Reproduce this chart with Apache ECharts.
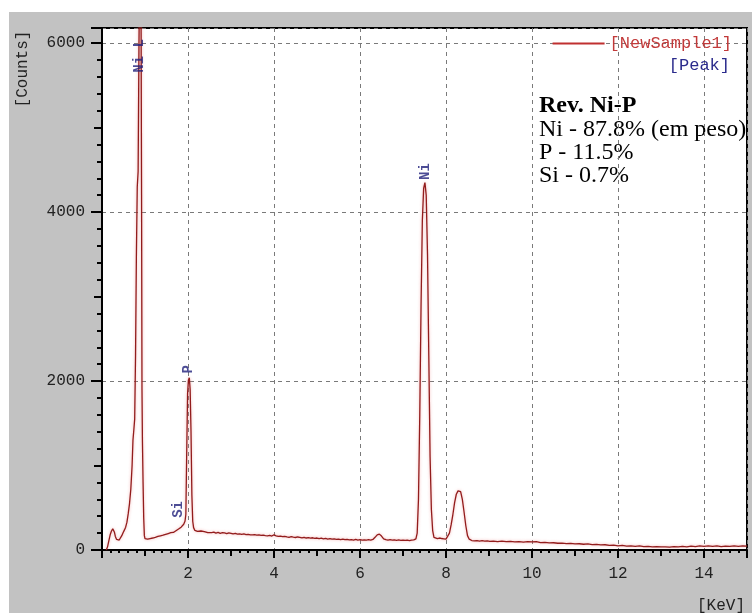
<!DOCTYPE html>
<html>
<head>
<meta charset="utf-8">
<title>EDS spectrum - Rev. Ni-P</title>
<script src="https://cdn.jsdelivr.net/npm/echarts@6/dist/echarts.min.js"></script>
<style>
  html, body { margin: 0; padding: 0; background: #fff; width: 752px; height: 613px; overflow: hidden; }
  #chart { position: absolute; left: 9px; top: 12px; width: 743px; height: 601px; background: #c2c2c2; }
</style>
</head>
<body>
<div id="chart"></div>
<script>
// Spectrum channels: energy (keV) and detector counts
const energyKeV = [
  0.10, 0.13, 0.16, 0.19, 0.22, 0.25, 0.27, 0.29, 0.31, 0.34, 0.37, 0.40, 0.43, 0.46, 0.49, 0.52, 0.55, 0.58, 0.61, 0.64,
  0.67, 0.70, 0.72, 0.74, 0.76, 0.78, 0.80, 0.82, 0.84, 0.86, 0.88, 0.90, 0.91, 0.92, 0.93, 0.94, 0.955, 0.97, 0.985, 1.00,
  1.03, 1.06, 1.09, 1.12, 1.15, 1.18, 1.21, 1.24, 1.27, 1.30, 1.33, 1.36, 1.39, 1.42, 1.45, 1.48, 1.51, 1.54, 1.57, 1.60,
  1.63, 1.66, 1.69, 1.72, 1.75, 1.78, 1.81, 1.84, 1.87, 1.90, 1.93, 1.95, 1.97, 1.99, 2.01, 2.03, 2.05, 2.07, 2.09, 2.11,
  2.13, 2.16, 2.19, 2.22, 2.26, 2.30, 2.34, 2.38, 2.42, 2.46, 2.50, 2.55, 2.60, 2.65, 2.70, 2.75, 2.80, 2.85, 2.90, 2.95,
  3.00, 3.05, 3.10, 3.15, 3.20, 3.25, 3.30, 3.35, 3.40, 3.45, 3.50, 3.55, 3.60, 3.65, 3.70, 3.75, 3.80, 3.85, 3.90, 3.95,
  4.00, 4.05, 4.10, 4.15, 4.20, 4.25, 4.30, 4.35, 4.40, 4.45, 4.50, 4.55, 4.60, 4.65, 4.70, 4.75, 4.80, 4.85, 4.90, 4.95,
  5.00, 5.05, 5.10, 5.15, 5.20, 5.25, 5.30, 5.35, 5.40, 5.45, 5.50, 5.55, 5.60, 5.65, 5.70, 5.75, 5.80, 5.85, 5.90, 5.95,
  6.00, 6.05, 6.10, 6.15, 6.20, 6.25, 6.30, 6.35, 6.40, 6.45, 6.50, 6.55, 6.60, 6.65, 6.70, 6.75, 6.80, 6.85, 6.90, 6.95,
  7.00, 7.05, 7.10, 7.15, 7.20, 7.25, 7.30, 7.33, 7.36, 7.39, 7.42, 7.45, 7.48, 7.51, 7.54, 7.57, 7.60, 7.63, 7.66, 7.69,
  7.72, 7.76, 7.80, 7.85, 7.90, 7.95, 8.00, 8.04, 8.08, 8.12, 8.16, 8.20, 8.24, 8.28, 8.31, 8.34, 8.38, 8.42, 8.46, 8.50,
  8.54, 8.60, 8.66, 8.72, 8.78, 8.84, 8.90, 8.96, 9.02, 9.10, 9.20, 9.30, 9.40, 9.50, 9.60, 9.70, 9.80, 9.90, 10.00, 10.10,
  10.20, 10.30, 10.40, 10.50, 10.60, 10.70, 10.80, 10.90, 11.00, 11.10, 11.20, 11.30, 11.40, 11.50, 11.60, 11.70, 11.80, 11.90, 12.00, 12.10,
  12.20, 12.30, 12.40, 12.50, 12.60, 12.70, 12.80, 12.90, 13.00, 13.10, 13.20, 13.30, 13.40, 13.50, 13.60, 13.70, 13.80, 13.90, 14.00, 14.10,
  14.20, 14.30, 14.40, 14.50, 14.60, 14.70, 14.80, 14.90, 15.00
];
const counts = [
  0, 40, 110, 180, 225, 250, 245, 210, 160, 125, 110, 118, 140, 170, 205, 235, 270, 330, 430, 550,
  720, 1000, 1300, 1420, 1550, 2300, 3500, 4300, 4480, 6000, 7000, 6900, 6100, 4200, 1900, 1300, 800, 380, 170, 135,
  120, 128, 122, 135, 130, 142, 138, 150, 146, 160, 155, 168, 162, 175, 172, 185, 182, 195, 192, 205,
  210, 208, 222, 228, 240, 248, 262, 270, 285, 305, 340, 420, 1150, 1850, 2010, 2040, 1900, 1400, 650, 340,
  265, 232, 215, 220, 212, 225, 208, 218, 212, 205, 215, 206, 212, 200, 208, 198, 205, 202, 194, 203,
  198, 190, 196, 188, 192, 185, 190, 182, 186, 180, 178, 183, 175, 178, 172, 176, 170, 166, 172, 165,
  180, 168, 160, 165, 158, 162, 155, 150, 158, 152, 148, 154, 150, 144, 150, 142, 146, 140, 145, 138,
  142, 135, 140, 132, 138, 130, 136, 128, 132, 126, 130, 124, 128, 122, 126, 120, 124, 118, 126, 118,
  122, 116, 120, 118, 122, 118, 125, 150, 180, 188, 165, 132, 122, 118, 122, 116, 120, 115, 119, 114,
  118, 113, 117, 112, 118, 120, 132, 200, 600, 1600, 2900, 3900, 4280, 4350, 4200, 3500, 2300, 1100, 480, 230,
  150, 140, 135, 142, 136, 132, 128, 150, 200, 300, 420, 560, 660, 700, 705, 690, 600, 450, 290, 170,
  128, 112, 108, 112, 106, 110, 104, 108, 102, 106, 100, 104, 98, 102, 96, 100, 94, 98, 96, 100,
  88, 90, 84, 86, 80, 82, 76, 78, 72, 74, 68, 72, 64, 66, 60, 62, 55, 58, 50, 54,
  46, 50, 44, 48, 40, 44, 38, 40, 36, 38, 34, 40, 36, 44, 38, 46, 40, 48, 42, 50,
  44, 48, 40, 46, 42, 48, 44, 50, 46
];

// Identified peaks: label, energy (keV), counts where the label starts
const peakNames = ['Ni L', 'Si', 'P', 'Ni'];
const peakKeV = [0.88, 1.79, 2.01, 7.52];
const peakCounts = [5650, 380, 2090, 4380];

// Axis tick labels
const xTickLabels = [2, 4, 6, 8, 10, 12, 14];
const yTickLabels = [0, 2000, 4000, 6000];

// Composition note
const noteTitle = 'Rev. Ni-P';
const noteLines = ['Ni - 87.8% (em peso)', 'P - 11.5%', 'Si - 0.7%'];

const monoFont = 'Liberation Mono';
const spectrum = energyKeV.map((e, i) => [e, counts[i]]);
const peaks = peakNames.map((n, i) => [peakKeV[i], peakCounts[i], n]);

const lineColor = '#921c1c';
const blackLine = { color: '#000', width: 2 };
const gridDash = { color: '#7a7a7a', width: 1, type: [4, 4] };

const chart = echarts.init(document.getElementById('chart'), null, { renderer: 'canvas' });

const noteGraphics = [{
  type: 'text', x: 530, y: 94,
  style: { text: noteTitle, font: 'bold 24px "Liberation Serif"', fill: '#000', verticalAlign: 'middle', textVerticalAlign: 'middle' }
}].concat(noteLines.map((t, i) => ({
  type: 'text', x: 530, y: 118 + i * 23,
  style: { text: t, font: '24px "Liberation Serif"', fill: '#000', verticalAlign: 'middle', textVerticalAlign: 'middle' }
})));

chart.setOption({
  animation: false,
  grid: {
    left: 93, top: 16, right: 5, bottom: 63,
    show: true, backgroundColor: '#fff', borderColor: '#000', borderWidth: 2
  },
  legend: [
    {
      data: [{ name: '[NewSample1]', icon: 'rect' }],
      right: 20, top: 23, padding: 0,
      itemWidth: 52, itemHeight: 2, selectedMode: false,
      textStyle: { color: '#c23a3a', fontFamily: monoFont, fontSize: 17 }
    },
    {
      data: [{ name: '[Peak]', icon: 'none' }],
      right: 22, top: 45, padding: 0,
      itemWidth: 0, itemHeight: 14, selectedMode: false,
      textStyle: { color: '#2b2b8c', fontFamily: monoFont, fontSize: 17 }
    }
  ],
  xAxis: [
    {
      type: 'value', min: 0, max: 15, interval: 1, position: 'bottom',
      axisLine: { show: true, lineStyle: blackLine },
      axisTick: { show: true, length: 6, lineStyle: blackLine },
      minorTick: { show: true, splitNumber: 5, length: 3, lineStyle: blackLine },
      axisLabel: { show: false },
      splitLine: { show: false }
    },
    {
      type: 'value', min: 0, max: 15, interval: 2, position: 'bottom',
      axisLine: { show: false },
      axisTick: { show: true, length: 8, lineStyle: blackLine },
      axisLabel: {
        margin: 16, color: '#222', fontFamily: monoFont, fontSize: 16,
        formatter: v => (xTickLabels.indexOf(v) >= 0 ? String(v) : '')
      },
      splitLine: { show: true, lineStyle: gridDash }
    }
  ],
  yAxis: [
    {
      type: 'value', min: 0, max: 6180, interval: 1000, position: 'left',
      axisLine: { show: true, lineStyle: blackLine },
      axisTick: { show: true, length: 8, lineStyle: blackLine },
      minorTick: { show: true, splitNumber: 5, length: 5, lineStyle: blackLine },
      axisLabel: { show: false },
      splitLine: { show: false }
    },
    {
      type: 'value', min: 0, max: 6180, interval: 2000, position: 'left',
      axisLine: { show: false },
      axisTick: { show: true, length: 11, lineStyle: blackLine },
      axisLabel: {
        margin: 17, color: '#222', fontFamily: monoFont, fontSize: 16,
        formatter: v => (yTickLabels.indexOf(v) >= 0 ? String(v) : '')
      },
      splitLine: { show: true, lineStyle: gridDash }
    }
  ],
  series: [
    {
      name: '[NewSample1]', type: 'line', data: spectrum,
      xAxisIndex: 0, yAxisIndex: 0, symbol: 'none', clip: true, z: 3,
      itemStyle: { color: '#c03030' },
      lineStyle: { color: lineColor, width: 1.3, shadowColor: 'rgba(235,120,120,0.6)', shadowBlur: 3 }
    },
    {
      name: '[Peak]', type: 'scatter', data: peaks,
      xAxisIndex: 0, yAxisIndex: 0, symbolSize: 0.1, z: 4,
      itemStyle: { color: 'rgba(0,0,0,0)' },
      label: {
        show: true, position: [0, 0], rotate: 90, align: 'left', verticalAlign: 'middle',
        formatter: p => p.value[2],
        color: '#1f1f7a', fontFamily: monoFont, fontSize: 14, fontWeight: 'bold'
      }
    }
  ],
  graphic: [
    {
      type: 'text', x: 14, y: 57, rotation: Math.PI / 2,
      style: { text: '[Counts]', font: '16px "Liberation Mono"', fill: '#222',
               align: 'center', verticalAlign: 'middle', textAlign: 'center', textVerticalAlign: 'middle' }
    },
    {
      type: 'text', x: 736, y: 594,
      style: { text: '[KeV]', font: '16px "Liberation Mono"', fill: '#222',
               align: 'right', verticalAlign: 'middle', textAlign: 'right', textVerticalAlign: 'middle' }
    }
  ].concat(noteGraphics)
});
</script>
</body>
</html>
